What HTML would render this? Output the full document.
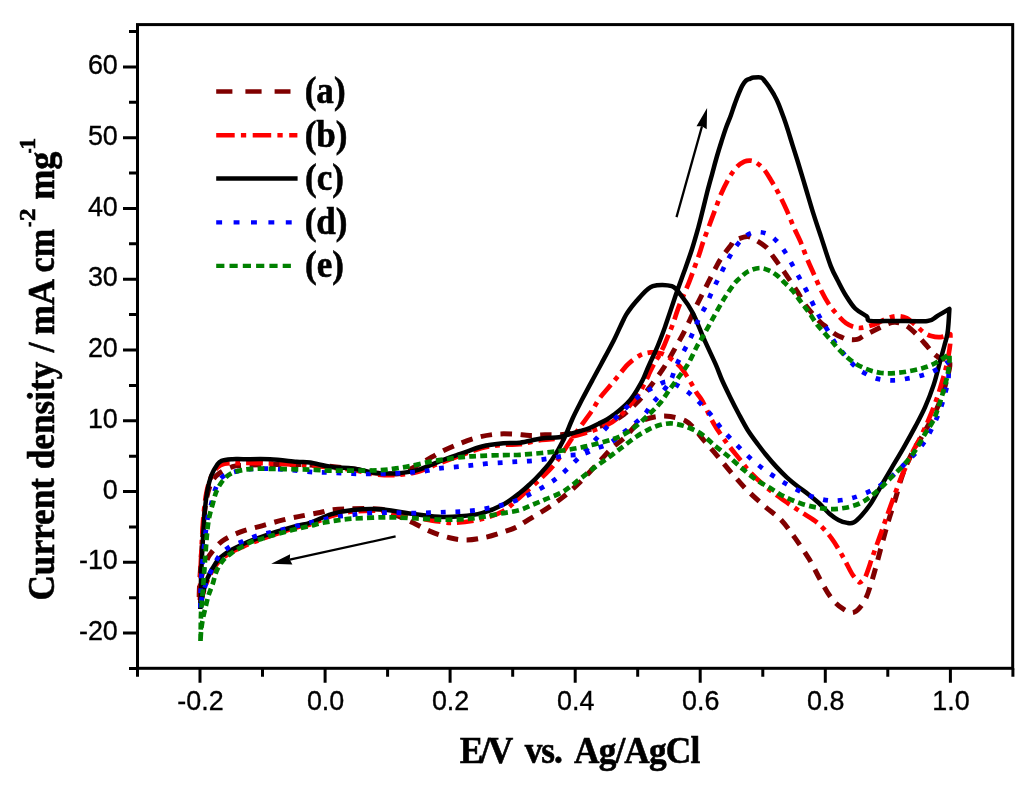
<!DOCTYPE html>
<html><head><meta charset="utf-8"><title>CV</title>
<style>
html,body{margin:0;padding:0;background:#fff;}
body{width:1024px;height:788px;overflow:hidden;font-family:"Liberation Sans",sans-serif;}
svg{display:block;}
</style></head><body>
<svg width="1024" height="788" viewBox="0 0 1024 788">
<defs><filter id="soft" x="-2%" y="-2%" width="104%" height="104%"><feGaussianBlur stdDeviation="0.55"/></filter></defs>
<rect width="1024" height="788" fill="#fff"/>
<g filter="url(#soft)">
<g id="curves">
<path d="M199.2,597.0C199.2,595.7 199.2,593.9 199.4,589.0C199.6,584.1 199.9,578.1 200.6,567.9C201.2,557.7 202.4,539.0 203.3,527.9C204.2,516.8 204.7,508.9 206.0,501.3C207.3,493.8 209.1,487.3 211.3,482.6C213.5,477.9 215.8,476.0 219.3,473.3C222.9,470.6 228.6,467.9 232.6,466.6C236.6,465.3 237.1,465.7 243.3,465.3C249.5,464.9 261.1,464.6 270.0,464.5C278.9,464.4 288.2,464.3 296.5,464.5C304.8,464.7 310.6,464.8 320.0,465.5C329.4,466.2 343.9,467.8 353.0,469.0C362.1,470.2 367.3,472.2 374.5,473.0C381.7,473.8 390.6,474.3 396.0,474.0C401.4,473.7 401.7,473.2 406.7,471.0C411.7,468.8 420.3,463.7 426.0,460.5C431.7,457.3 435.3,454.8 441.0,451.9C446.7,449.0 453.9,445.8 460.4,443.3C466.8,440.8 473.6,438.4 479.7,436.9C485.8,435.4 491.2,434.6 496.9,434.1C502.6,433.6 508.6,433.9 514.1,434.1C519.6,434.3 524.9,435.3 530.0,435.4C535.1,435.5 539.5,434.9 545.0,434.8C550.5,434.7 556.5,435.1 563.0,434.5C569.5,433.9 576.8,432.8 584.0,431.0C591.2,429.2 599.8,426.4 606.0,424.0C612.2,421.6 616.0,419.9 621.0,416.5C626.0,413.1 631.7,407.9 636.0,403.6C640.3,399.3 642.6,396.4 647.0,390.8C651.4,385.2 657.8,376.6 662.3,369.9C666.8,363.2 669.9,357.5 673.7,350.8C677.5,344.1 681.5,337.1 685.1,329.9C688.8,322.7 692.1,314.7 695.6,307.5C699.1,300.3 702.7,293.4 706.2,286.5C709.7,279.6 713.9,271.1 716.6,266.1C719.3,261.1 719.9,260.1 722.3,256.6C724.7,253.1 728.8,247.9 730.9,245.2C733.0,242.5 732.0,241.8 734.7,240.4C737.4,239.0 743.8,236.8 747.1,236.6C750.4,236.4 751.5,237.8 754.7,239.5C757.9,241.2 763.2,244.6 766.1,247.1C769.0,249.6 769.6,251.7 771.8,254.7C774.0,257.7 777.3,262.3 779.4,265.2C781.5,268.1 781.8,268.3 784.2,271.8C786.6,275.3 791.5,282.8 793.7,286.1C795.9,289.4 795.4,288.5 797.5,291.8C799.6,295.1 802.5,301.2 806.1,306.1C809.8,311.0 816.2,318.0 819.4,321.3C822.6,324.6 822.6,323.9 825.1,326.0C827.6,328.1 831.8,331.8 834.6,333.7C837.5,335.6 840.0,336.6 842.2,337.5C844.4,338.4 845.1,339.1 847.6,339.4C850.1,339.7 854.2,340.1 857.1,339.4C860.0,338.7 861.5,336.8 864.7,335.2C867.9,333.6 872.3,331.4 876.1,329.5C879.9,327.6 884.3,325.0 887.5,323.8C890.7,322.6 892.2,322.1 895.1,322.2C898.0,322.3 901.8,323.3 904.7,324.7C907.6,326.1 909.8,328.2 912.3,330.4C914.8,332.6 917.4,335.3 919.9,338.0C922.4,340.7 925.1,343.9 927.5,346.6C929.9,349.3 931.8,352.0 934.1,354.0C936.4,356.0 939.0,358.1 941.5,358.8C944.0,359.5 949.3,358.0 949.3,358.0C949.3,358.0 950.1,362.8 949.8,366.0C949.5,369.2 948.5,372.8 947.5,377.0C946.5,381.2 945.1,386.2 943.5,391.0C941.9,395.8 940.2,400.8 938.0,406.0C935.8,411.2 932.8,416.7 930.0,422.0C927.2,427.3 923.9,433.0 921.0,438.0C918.1,443.0 915.6,445.9 912.6,451.9C909.6,457.9 905.8,465.8 902.8,474.2C899.8,482.6 897.0,493.7 894.4,502.1C891.8,510.5 889.7,516.5 887.4,524.4C885.1,532.3 882.9,540.7 880.5,549.5C878.1,558.3 875.5,569.0 872.9,577.4C870.3,585.8 868.2,594.0 865.1,599.8C862.0,605.6 857.7,610.8 854.0,612.3C850.3,613.8 846.5,611.0 842.8,608.7C839.1,606.4 835.3,603.1 831.6,598.4C827.9,593.6 824.2,586.7 820.5,580.2C816.8,573.7 813.5,566.3 809.3,559.3C805.1,552.3 799.9,544.9 795.3,538.4C790.6,531.9 786.5,525.6 781.4,520.2C776.3,514.9 770.3,511.2 764.7,506.3C759.1,501.4 753.2,496.2 747.9,490.9C742.5,485.5 737.6,480.0 732.6,474.2C727.6,468.4 722.5,462.0 717.7,456.3C712.9,450.6 707.7,444.9 703.7,440.2C699.8,435.5 697.0,431.5 694.0,428.3C691.0,425.1 689.3,422.8 685.4,420.8C681.5,418.8 675.0,417.2 670.4,416.5C665.8,415.8 661.8,416.0 657.5,416.5C653.2,417.0 648.2,418.3 644.6,419.7C641.0,421.1 639.2,422.2 636.0,425.1C632.8,428.0 629.2,433.1 625.3,436.9C621.4,440.7 617.1,443.2 612.4,447.7C607.7,452.2 602.7,458.1 597.3,463.8C591.9,469.5 585.9,476.4 580.2,482.0C574.5,487.6 568.4,492.8 563.0,497.1C557.6,501.4 553.6,504.1 547.9,507.8C542.2,511.6 533.9,516.4 528.6,519.6C523.3,522.8 520.5,525.0 516.3,527.1C512.1,529.2 508.4,530.3 503.4,532.0C498.4,533.7 492.3,535.9 486.2,537.2C480.1,538.5 472.9,539.9 466.8,540.0C460.7,540.1 455.7,539.2 449.6,537.8C443.5,536.4 436.4,533.9 430.3,531.4C424.2,528.9 418.8,525.5 413.1,522.8C407.4,520.1 401.4,517.5 396.0,515.3C390.6,513.0 388.8,510.4 380.9,509.3C373.0,508.2 356.9,508.7 348.7,508.8C340.5,508.9 336.3,509.3 331.5,509.9C326.7,510.5 324.9,511.5 320.0,512.5C315.1,513.5 308.0,514.7 301.9,515.9C295.8,517.1 289.9,518.2 283.2,519.9C276.5,521.5 269.0,523.8 261.9,525.8C254.8,527.8 247.2,529.3 240.6,531.9C233.9,534.5 227.1,537.4 222.0,541.2C216.9,545.0 212.7,551.0 210.0,554.5C207.3,558.0 207.3,559.1 206.0,562.5C204.7,565.9 203.1,570.6 202.0,575.0C200.9,579.4 199.8,586.7 199.4,589.0" fill="none" stroke="#800000" stroke-width="5.0" stroke-linejoin="round" stroke-dasharray="11.5 8.5"/>
<path d="M199.9,600.0C200.0,595.8 200.1,584.2 200.4,575.0C200.7,565.8 201.2,555.0 201.7,545.0C202.2,535.0 202.8,523.7 203.6,515.0C204.4,506.3 205.2,499.2 206.4,493.0C207.6,486.8 209.1,481.7 210.9,477.5C212.7,473.3 214.7,470.1 217.0,467.8C219.3,465.5 220.2,464.6 224.6,463.8C229.0,463.0 235.7,463.1 243.3,463.0C250.9,462.9 261.1,463.2 270.0,463.5C278.9,463.8 288.2,464.0 296.5,464.5C304.8,465.0 310.6,465.6 320.0,466.5C329.4,467.4 343.9,468.7 353.0,470.0C362.1,471.3 367.3,473.4 374.5,474.2C381.7,475.0 388.9,475.4 396.0,475.0C403.1,474.6 410.2,473.9 417.4,472.0C424.5,470.1 431.7,466.2 438.9,463.5C446.1,460.8 453.2,458.1 460.4,455.5C467.6,452.9 474.7,449.8 481.9,448.0C489.1,446.2 497.0,445.4 503.4,444.8C509.8,444.2 513.6,445.0 520.0,444.2C526.4,443.4 534.3,441.0 541.5,440.0C548.7,439.0 555.8,439.3 563.0,438.2C570.2,437.1 577.0,435.5 584.5,433.2C592.0,430.9 601.7,427.8 608.0,424.5C614.3,421.2 617.7,418.2 622.5,413.5C627.3,408.8 633.2,401.8 637.0,396.5C640.8,391.2 643.4,385.5 645.5,381.5C647.6,377.5 648.3,375.6 649.7,372.6C651.1,369.6 652.5,366.6 654.1,363.7C655.7,360.8 657.9,357.8 659.5,354.9C661.1,351.9 662.4,349.3 663.9,346.0C665.4,342.7 666.9,338.8 668.3,335.3C669.7,331.8 670.6,330.0 672.5,325.0C674.4,320.0 676.6,312.3 679.4,305.2C682.1,298.1 686.5,288.6 689.0,282.3C691.5,276.0 692.9,271.9 694.6,267.1C696.3,262.4 698.0,258.1 699.4,253.8C700.8,249.5 701.7,246.0 703.3,241.4C704.9,236.8 707.1,231.3 709.0,226.2C710.9,221.1 712.6,216.4 714.7,210.9C716.8,205.4 719.0,198.7 721.4,193.2C723.8,187.7 726.5,182.3 729.0,178.0C731.5,173.7 734.1,169.9 736.6,167.2C739.1,164.5 741.9,162.8 744.2,161.7C746.5,160.6 748.2,160.5 750.2,160.6C752.2,160.7 753.8,161.1 756.0,162.5C758.2,163.9 760.9,165.9 763.4,168.8C765.9,171.7 768.3,175.8 770.8,179.9C773.3,184.0 775.8,188.0 778.5,193.2C781.2,198.4 784.5,205.2 787.0,210.9C789.5,216.6 791.5,222.0 793.7,227.1C795.9,232.2 798.2,236.2 800.4,241.4C802.6,246.6 804.8,253.1 807.0,258.5C809.2,263.9 811.3,268.3 813.7,273.7C816.1,279.1 818.8,285.7 821.3,290.8C823.8,295.9 826.4,300.4 828.9,304.2C831.4,308.0 833.6,310.5 836.5,313.7C839.4,316.9 842.8,320.9 846.0,323.2C849.2,325.5 852.7,326.7 855.5,327.4C858.3,328.1 859.4,328.2 862.8,327.6C866.2,327.0 872.3,325.2 876.1,323.8C879.9,322.4 882.1,320.3 885.6,319.0C889.1,317.7 893.5,316.3 897.0,316.2C900.5,316.1 903.4,316.5 906.6,318.1C909.8,319.7 913.2,323.3 916.1,325.7C919.0,328.1 921.2,330.6 923.7,332.3C926.2,334.0 928.4,335.3 931.3,336.1C934.1,336.9 937.6,337.4 940.8,337.1C944.0,336.8 950.3,334.2 950.3,334.2C950.3,334.2 950.6,339.1 950.3,342.8C950.0,346.5 949.2,351.7 948.4,356.1C947.6,360.5 946.7,365.0 945.6,369.4C944.5,373.8 943.2,377.9 941.8,382.7C940.4,387.5 938.8,392.9 937.0,398.0C935.2,403.1 933.2,408.4 931.3,413.2C929.4,417.9 927.7,421.9 925.6,426.5C923.5,431.1 920.7,436.8 918.5,441.0C916.3,445.2 915.5,445.9 912.6,451.9C909.8,457.9 904.7,469.1 901.4,477.0C898.1,484.9 895.6,492.3 893.0,499.3C890.4,506.3 888.3,512.3 886.0,518.8C883.7,525.3 881.4,531.9 879.1,538.4C876.8,544.9 874.4,551.4 872.1,557.9C869.8,564.4 867.2,573.3 865.1,577.4C863.0,581.5 859.5,582.5 859.5,582.5C859.5,582.5 855.4,579.0 852.6,574.7C849.8,570.4 846.3,562.5 842.8,556.5C839.3,550.5 835.8,544.0 831.6,538.4C827.4,532.8 822.8,527.4 817.7,523.0C812.6,518.6 806.5,515.6 800.9,511.9C795.3,508.2 789.8,504.7 784.2,500.7C778.6,496.7 773.0,492.8 767.4,488.1C761.8,483.5 755.3,477.6 750.7,472.8C746.1,468.0 744.1,464.6 740.0,459.5C735.9,454.4 730.7,448.4 726.3,442.3C721.9,436.2 717.3,429.8 713.4,423.0C709.5,416.2 705.4,406.6 702.6,401.5C699.8,396.4 698.9,396.4 696.6,392.7C694.3,389.0 691.5,383.5 688.9,379.4C686.3,375.3 684.1,371.3 681.3,368.0C678.4,364.7 675.0,361.8 671.8,359.4C668.6,357.0 665.8,354.9 662.3,353.7C658.8,352.5 654.7,352.1 650.9,352.4C647.1,352.7 643.3,353.6 639.5,355.6C635.7,357.6 631.5,360.9 628.0,364.2C624.5,367.5 621.7,371.8 618.5,375.6C615.3,379.4 612.2,383.2 609.0,387.0C605.8,390.8 602.5,394.2 599.5,398.4C596.5,402.6 595.2,405.9 590.9,412.2C586.6,418.4 579.4,427.7 573.7,435.9C568.0,444.1 561.9,454.6 556.5,461.6C551.1,468.6 547.6,471.9 541.5,477.8C535.4,483.7 526.4,491.6 520.0,497.1C513.6,502.6 509.8,507.4 503.4,511.0C497.0,514.6 489.8,517.0 481.9,519.0C474.0,521.0 463.3,522.4 456.1,522.8C448.9,523.2 447.1,522.6 438.9,521.5C430.7,520.4 416.4,517.8 406.7,516.0C397.0,514.2 389.8,511.8 380.9,511.0C371.9,510.2 361.2,510.7 353.0,511.5C344.8,512.3 338.7,513.8 331.5,516.0C324.3,518.2 315.8,522.6 310.0,524.5C304.2,526.4 303.2,525.6 296.5,527.5C289.8,529.4 276.6,533.8 270.0,536.0C263.4,538.2 261.1,539.2 256.7,541.0C252.2,542.8 247.8,544.5 243.3,546.5C238.9,548.5 234.0,550.6 230.0,553.0C226.0,555.4 222.2,558.2 219.3,561.0C216.4,563.8 214.7,566.7 212.7,570.0C210.7,573.3 208.9,577.2 207.3,581.0C205.7,584.8 204.5,589.3 203.3,593.0C202.1,596.7 200.7,601.3 200.2,603.0" fill="none" stroke="#ff0000" stroke-width="4.7" stroke-linejoin="round" stroke-dasharray="16.5 5.8 4.8 6"/>
<path d="M200.3,609.0C200.5,603.0 200.8,584.6 201.2,573.3C201.6,562.0 202.2,551.5 202.8,541.3C203.4,531.1 203.9,520.4 204.7,512.0C205.4,503.6 206.2,497.1 207.3,491.0C208.4,484.9 209.7,479.8 211.3,475.5C212.9,471.2 215.0,467.9 216.7,465.5C218.4,463.1 218.8,461.9 221.5,460.8C224.2,459.8 229.1,459.5 232.7,459.2C236.3,458.9 237.1,459.2 243.3,459.2C249.5,459.2 261.1,458.8 270.0,459.2C278.9,459.6 289.8,461.2 296.5,461.8C303.2,462.4 304.2,461.8 310.0,462.6C315.8,463.5 324.3,465.9 331.5,466.9C338.7,467.9 345.8,467.4 353.0,468.4C360.2,469.4 367.3,471.9 374.5,472.7C381.7,473.5 388.9,473.8 396.0,473.4C403.1,473.0 410.2,472.2 417.4,470.2C424.5,468.2 431.7,464.3 438.9,461.6C446.1,458.9 453.2,456.5 460.4,454.0C467.6,451.5 474.7,448.3 481.9,446.5C489.1,444.7 497.0,443.9 503.4,443.3C509.8,442.7 513.6,443.5 520.0,442.7C526.4,441.9 535.0,439.3 541.5,438.4C548.0,437.5 554.4,438.0 559.1,437.3C563.8,436.6 566.2,435.1 569.8,434.0C573.3,432.9 577.1,432.0 580.4,431.0C583.7,430.0 586.5,429.2 589.6,428.0C592.7,426.8 595.7,425.2 598.7,423.7C601.7,422.2 605.0,420.6 607.8,418.9C610.6,417.2 612.8,415.4 615.4,413.5C618.0,411.6 620.5,409.6 623.1,407.2C625.7,404.8 628.4,402.2 630.7,399.4C633.0,396.6 634.8,393.7 636.8,390.4C638.8,387.1 641.0,383.4 642.8,379.8C644.6,376.2 646.1,372.0 647.4,369.0C648.7,366.0 649.5,364.2 650.5,362.0C651.5,359.8 652.1,358.7 653.3,356.0C654.5,353.3 655.9,350.3 657.7,346.0C659.5,341.7 662.4,333.9 663.9,330.0C665.4,326.1 664.6,328.1 666.6,322.3C668.6,316.6 672.7,304.0 675.6,295.5C678.5,287.0 681.4,279.3 684.2,271.5C687.0,263.7 689.9,255.8 692.2,248.5C694.5,241.2 696.4,234.4 698.2,228.0C700.0,221.6 701.3,215.9 702.8,210.0C704.3,204.1 705.6,198.4 707.1,192.5C708.6,186.6 710.3,180.6 711.9,174.8C713.5,169.0 715.0,163.0 716.6,157.5C718.2,152.0 719.8,146.8 721.4,141.8C723.0,136.8 724.5,131.9 726.1,127.5C727.7,123.1 729.5,119.1 730.9,115.2C732.3,111.3 733.4,107.6 734.7,104.1C736.0,100.6 737.2,97.3 738.5,94.2C739.8,91.1 741.0,88.0 742.3,85.7C743.6,83.4 744.8,81.7 746.1,80.5C747.4,79.3 748.6,79.3 749.9,78.8C751.2,78.3 751.8,77.8 753.7,77.6C755.6,77.4 759.4,76.9 761.3,77.6C763.2,78.2 763.8,80.0 765.1,81.5C766.4,83.0 767.5,84.5 768.9,86.6C770.3,88.7 772.1,91.3 773.7,94.2C775.3,97.1 776.8,99.7 778.5,103.8C780.2,107.9 782.6,114.6 784.2,119.0C785.8,123.4 786.6,126.0 788.0,130.4C789.4,134.8 791.1,140.5 792.7,145.6C794.3,150.7 795.4,154.1 797.5,160.8C799.6,167.5 802.4,177.0 805.1,186.0C807.8,195.0 811.0,206.1 813.7,214.7C816.4,223.3 818.4,229.0 821.3,237.6C824.1,246.2 828.0,258.9 830.8,266.1C833.6,273.3 835.5,276.1 838.0,281.0C840.5,285.9 842.8,290.6 845.7,295.2C848.6,299.8 851.7,305.0 855.2,308.5C858.7,312.0 864.1,314.1 866.6,316.2C869.1,318.3 865.6,320.1 870.4,320.9C875.1,321.7 885.6,320.9 895.1,320.9C904.6,320.9 920.5,321.7 927.5,320.9C934.5,320.1 933.4,318.2 937.0,316.2C940.6,314.2 949.4,308.9 949.4,308.9C949.4,308.9 948.9,317.8 948.6,322.0C948.3,326.2 948.1,330.0 947.4,334.0C946.7,338.0 945.6,341.1 944.3,346.0C943.0,350.9 941.3,357.1 939.5,363.7C937.7,370.3 935.9,378.2 933.5,385.4C931.1,392.6 928.1,400.3 925.1,407.1C922.1,413.9 919.0,419.6 915.4,426.4C911.8,433.2 907.4,441.1 903.4,448.1C899.4,455.1 895.3,461.8 891.3,468.6C887.3,475.4 882.8,483.0 879.3,489.0C875.8,495.0 873.0,500.4 870.0,504.8C867.0,509.2 864.2,512.5 861.5,515.5C858.8,518.5 855.9,521.4 853.5,522.6C851.1,523.8 849.8,523.4 847.3,522.9C844.8,522.4 841.4,521.4 838.4,519.9C835.4,518.4 832.8,516.5 829.5,513.7C826.2,510.9 822.3,506.2 818.8,503.0C815.2,499.8 811.8,497.0 808.2,494.2C804.7,491.4 801.1,489.0 797.5,486.2C793.9,483.4 790.3,480.6 786.8,477.3C783.2,474.0 779.8,470.5 776.2,466.6C772.7,462.8 768.8,458.2 765.5,454.2C762.2,450.2 759.6,446.6 756.6,442.6C753.6,438.6 750.8,434.9 747.8,430.2C744.8,425.5 741.7,419.5 738.9,414.2C736.1,408.9 733.6,404.1 730.8,398.4C728.0,392.7 724.5,385.7 722.0,380.0C719.5,374.3 718.6,371.0 715.6,364.2C712.6,357.4 708.0,348.0 704.2,339.4C700.4,330.8 696.5,320.1 692.7,312.8C688.9,305.5 684.8,300.1 681.3,295.7C677.8,291.3 676.5,287.8 671.8,286.2C667.0,284.6 658.2,284.3 652.8,286.2C647.4,288.1 643.9,292.9 639.5,297.6C635.1,302.4 630.5,307.6 626.2,314.7C622.0,321.8 618.2,331.8 614.0,340.0C609.8,348.2 604.8,357.3 601.2,364.0C597.6,370.7 595.7,374.1 592.5,380.0C589.3,385.9 585.5,392.9 582.2,399.3C578.9,405.8 575.6,411.9 572.5,418.7C569.4,425.5 566.7,433.4 563.3,440.2C559.9,447.0 555.8,454.1 552.2,459.5C548.6,464.9 545.2,468.3 541.5,472.4C537.8,476.5 533.6,480.7 530.0,484.1C526.4,487.5 524.4,489.4 520.0,492.8C515.6,496.2 509.8,501.1 503.4,504.5C497.0,507.9 489.1,511.1 481.9,513.1C474.7,515.1 467.6,515.7 460.4,516.3C453.2,516.9 447.8,517.3 438.9,516.8C429.9,516.3 416.4,514.4 406.7,513.1C397.0,511.9 389.8,509.8 380.9,509.3C371.9,508.8 361.2,509.1 353.0,509.9C344.8,510.7 338.7,512.1 331.5,514.2C324.3,516.4 315.8,520.8 310.0,522.8C304.2,524.8 303.2,524.1 296.5,526.0C289.8,527.9 276.6,531.8 270.0,533.9C263.4,536.0 261.1,537.0 256.7,538.7C252.2,540.4 247.8,542.0 243.3,544.0C238.9,546.0 234.0,548.2 230.0,550.7C226.0,553.2 222.2,555.8 219.3,558.7C216.4,561.6 214.7,564.7 212.7,568.0C210.7,571.3 208.9,574.7 207.3,578.7C205.7,582.7 204.4,587.1 203.3,592.0C202.2,596.9 201.1,605.3 200.7,608.0" fill="none" stroke="#000000" stroke-width="4.5" stroke-linejoin="round"/>
<path d="M200.4,607.8C200.4,605.1 200.3,598.4 200.6,591.8C200.9,585.1 201.3,576.3 202.0,567.9C202.7,559.5 203.8,549.2 204.7,541.2C205.6,533.2 206.2,526.1 207.3,519.9C208.4,513.7 210.0,509.0 211.3,503.9C212.6,498.8 213.5,493.7 215.3,489.3C217.1,484.9 218.4,480.3 222.0,477.3C225.6,474.3 230.8,472.8 236.6,471.4C242.4,470.0 248.8,469.1 256.6,468.8C264.4,468.5 274.3,468.8 283.2,469.3C292.1,469.8 301.9,471.3 310.0,471.9C318.1,472.5 322.6,472.3 331.5,472.7C340.4,473.1 352.9,473.9 363.7,474.0C374.4,474.1 386.0,473.9 396.0,473.4C406.0,472.9 416.8,472.0 423.9,471.2C431.0,470.4 433.5,469.1 438.9,468.4C444.2,467.7 450.6,467.4 456.0,466.9C461.4,466.4 466.1,465.9 471.1,465.4C476.1,464.9 480.8,464.2 486.2,463.7C491.6,463.2 498.0,463.0 503.4,462.6C508.8,462.2 513.3,461.9 518.4,461.6C523.5,461.3 528.7,461.1 534.0,460.6C539.3,460.1 544.6,459.2 550.0,458.4C555.4,457.6 560.8,456.3 566.2,455.6C571.6,454.9 577.5,455.2 582.3,454.1C587.1,453.0 590.7,450.5 595.2,448.7C599.7,446.9 604.9,445.8 609.2,443.4C613.5,441.0 617.1,437.6 621.0,434.5C624.9,431.4 628.9,428.5 632.8,425.1C636.7,421.8 641.4,418.0 644.6,414.4C647.8,410.8 649.4,407.0 652.1,403.6C654.8,400.2 657.7,397.8 660.7,394.0C663.8,390.2 667.9,385.5 670.4,381.0C672.9,376.5 673.8,371.2 675.6,367.0C677.4,362.8 679.2,359.6 681.3,355.6C683.4,351.6 685.9,347.3 688.0,343.2C690.1,339.1 691.8,335.2 693.7,330.9C695.6,326.6 697.3,321.8 699.4,317.5C701.5,313.2 703.9,309.8 706.1,305.2C708.3,300.6 710.5,294.8 712.7,290.0C714.9,285.2 717.2,281.1 719.4,276.6C721.6,272.2 723.8,267.5 726.0,263.3C728.2,259.1 730.3,255.1 732.8,251.3C735.3,247.5 737.8,243.5 741.0,240.4C744.2,237.3 747.6,234.0 751.8,232.8C756.0,231.6 762.0,232.0 766.1,233.4C770.2,234.8 773.5,238.0 776.6,241.0C779.7,244.0 782.1,247.5 784.6,251.3C787.1,255.1 789.4,259.5 791.8,263.8C794.2,268.1 796.6,272.8 799.0,277.1C801.4,281.5 803.4,284.7 806.1,289.9C808.8,295.1 812.6,303.3 815.2,308.5C817.8,313.7 819.5,316.8 821.9,320.9C824.3,325.0 827.0,329.2 829.5,333.3C832.0,337.4 833.0,340.2 837.1,345.6C841.2,351.0 849.6,361.0 854.2,365.6C858.8,370.2 860.7,371.0 864.7,373.2C868.7,375.4 873.1,377.7 878.0,378.9C882.9,380.1 888.8,380.4 894.2,380.3C899.6,380.2 905.3,378.9 910.4,378.0C915.5,377.1 920.2,376.0 924.6,374.6C929.0,373.2 933.0,371.5 937.0,369.4C941.0,367.3 948.4,361.8 948.4,361.8C948.4,361.8 949.0,373.4 948.4,379.0C947.8,384.6 946.0,389.9 944.6,395.1C943.2,400.3 941.8,405.3 939.9,410.3C938.0,415.3 936.0,420.2 933.5,425.3C931.0,430.4 927.9,436.3 925.1,440.7C922.3,445.1 919.7,448.4 916.7,451.9C913.7,455.4 910.2,458.4 907.0,461.6C903.8,464.9 900.7,468.1 897.2,471.4C893.7,474.7 889.7,478.3 886.0,481.2C882.3,484.1 879.1,486.4 874.9,488.7C870.7,491.0 865.5,493.3 860.9,495.1C856.2,496.9 851.9,498.4 847.0,499.3C842.1,500.2 836.7,500.9 831.6,500.7C826.5,500.5 820.9,499.2 816.3,497.9C811.6,496.6 808.1,494.9 803.7,492.9C799.3,490.9 794.2,488.3 789.8,485.9C785.4,483.5 781.4,481.0 777.2,478.4C773.0,475.8 768.7,472.9 764.7,470.0C760.8,467.1 757.0,464.1 753.5,461.1C750.0,458.1 747.0,455.1 743.7,451.9C740.4,448.7 737.2,445.5 733.8,441.9C730.3,438.3 726.6,434.7 723.0,430.5C719.4,426.3 715.5,420.4 712.3,416.5C709.1,412.6 706.6,409.9 703.7,406.9C700.8,403.9 698.2,401.2 695.0,398.3C691.8,395.4 688.9,392.5 684.4,389.7C679.9,386.9 673.1,382.2 668.3,381.7C663.5,381.1 659.5,384.5 655.4,386.4C651.3,388.3 647.2,390.5 643.5,392.9C639.8,395.3 636.7,397.8 633.2,400.8C629.7,403.9 626.2,407.8 622.7,411.2C619.2,414.6 615.7,417.9 612.4,421.3C609.1,424.7 605.9,428.1 602.7,431.6C599.5,435.1 596.4,438.6 593.0,442.3C589.6,446.1 586.0,450.2 582.3,454.1C578.5,458.0 574.4,462.1 570.5,465.9C566.6,469.7 562.5,473.6 558.7,476.7C555.0,479.8 552.0,481.7 548.0,484.2C544.0,486.7 539.0,489.4 534.6,491.7C530.2,494.0 526.1,496.1 521.6,498.1C517.1,500.1 512.2,502.1 507.7,503.5C503.2,504.9 499.6,505.6 494.8,506.7C490.0,507.8 484.1,509.1 478.7,509.9C473.3,510.7 467.7,511.0 462.5,511.4C457.3,511.8 452.9,511.8 447.5,512.0C442.1,512.2 436.0,512.5 430.3,512.7C424.6,512.9 418.8,513.1 413.1,513.1C407.4,513.1 401.4,512.8 396.0,512.7C390.6,512.6 386.3,512.6 380.9,512.7C375.5,512.9 369.1,513.2 363.7,513.6C358.3,514.0 353.7,514.7 348.7,515.3C343.7,515.9 338.6,516.5 333.6,517.4C328.6,518.3 323.9,519.4 318.6,520.6C313.3,521.8 309.6,522.8 301.9,524.7C294.2,526.6 279.9,530.1 272.6,531.9C265.3,533.7 262.8,533.8 257.9,535.4C253.0,537.0 248.0,539.3 243.3,541.2C238.7,543.1 234.0,544.2 230.0,546.6C226.0,549.0 222.4,551.9 219.3,555.9C216.2,559.9 213.5,565.9 211.3,570.5C209.1,575.1 207.6,579.4 206.0,583.8C204.4,588.2 202.9,593.0 202.0,597.0C201.1,601.0 200.8,606.0 200.6,607.8" fill="none" stroke="#0000ff" stroke-width="4.7" stroke-linejoin="round" stroke-dasharray="4.9 9.8"/>
<path d="M200.5,641.0C200.6,638.3 200.7,630.0 200.8,625.0C200.9,620.0 200.8,617.4 201.2,610.7C201.6,604.0 202.7,592.6 203.3,585.0C203.9,577.4 204.2,571.7 204.7,565.3C205.1,558.9 205.6,552.5 206.0,546.7C206.4,540.9 206.8,535.6 207.3,530.7C207.8,525.8 208.3,521.8 209.2,517.3C210.1,512.8 211.4,508.4 212.7,504.0C213.9,499.6 214.9,494.7 216.7,490.7C218.5,486.7 220.9,482.9 223.3,480.0C225.7,477.1 228.0,475.0 231.3,473.3C234.6,471.6 239.1,470.6 243.3,469.9C247.5,469.1 252.2,469.0 256.7,468.8C261.1,468.6 263.4,468.7 270.0,468.8C276.6,468.9 289.0,469.1 296.5,469.3C304.0,469.5 309.4,469.6 315.2,469.8C321.0,470.0 325.2,470.5 331.5,470.6C337.8,470.7 344.8,470.7 353.0,470.6C361.2,470.5 373.7,470.6 380.9,470.2C388.1,469.8 391.0,469.1 396.0,468.4C401.0,467.7 405.3,467.0 411.0,465.9C416.7,464.8 424.2,462.8 430.3,461.6C436.4,460.5 441.8,459.8 447.5,459.0C453.2,458.2 459.0,457.3 464.7,456.8C470.4,456.3 475.4,456.1 481.9,455.8C488.3,455.5 497.0,455.3 503.4,455.1C509.8,454.9 513.6,455.2 520.0,454.8C526.4,454.4 534.3,453.7 541.5,453.0C548.7,452.3 555.8,451.6 563.0,450.5C570.2,449.4 577.4,448.2 584.5,446.6C591.6,445.1 599.8,443.0 605.9,441.2C612.0,439.4 616.0,438.4 621.0,435.9C626.0,433.4 631.4,429.8 636.0,426.2C640.6,422.6 644.9,418.2 648.9,414.4C652.9,410.6 656.2,407.8 659.7,403.6C663.2,399.4 666.4,394.0 670.0,389.0C673.6,384.0 678.1,378.1 681.3,373.7C684.5,369.2 686.5,366.8 689.0,362.3C691.5,357.9 694.4,351.1 696.6,347.0C698.8,342.9 699.8,341.9 702.3,337.5C704.8,333.1 708.6,326.1 711.8,320.4C715.0,314.7 718.6,307.9 721.3,303.3C724.0,298.7 725.8,296.1 728.0,292.7C730.2,289.3 732.5,285.9 734.7,283.2C736.9,280.5 739.0,278.7 741.4,276.6C743.8,274.6 745.8,272.3 749.0,270.9C752.2,269.5 756.9,268.0 760.4,268.0C763.9,268.0 766.9,269.5 769.9,270.9C772.9,272.3 776.0,274.6 778.5,276.6C781.0,278.7 782.7,280.8 785.1,283.2C787.5,285.6 790.5,288.2 792.7,290.8C794.9,293.4 796.6,295.9 798.5,298.5C800.4,301.1 802.3,303.6 804.2,306.1C806.1,308.6 807.8,310.6 809.9,313.7C812.0,316.8 814.6,321.4 817.1,324.7C819.6,328.0 822.2,330.4 824.7,333.3C827.2,336.2 830.1,339.3 832.3,341.8C834.5,344.3 835.9,346.1 838.1,348.5C840.3,350.9 843.0,353.7 845.7,356.1C848.4,358.5 851.4,360.9 854.2,362.8C857.1,364.7 859.6,366.1 862.8,367.5C866.0,368.9 869.8,370.4 873.3,371.3C876.8,372.2 879.8,372.9 883.7,373.2C887.7,373.5 892.9,373.2 897.0,372.9C901.1,372.6 904.7,372.0 908.5,371.3C912.3,370.6 916.3,369.8 919.9,368.9C923.5,367.9 926.8,367.1 930.3,365.6C933.8,364.1 937.6,361.8 940.8,359.9C944.0,358.0 949.4,354.2 949.4,354.2C949.4,354.2 949.7,360.2 949.4,363.7C949.1,367.2 948.3,371.3 947.5,375.1C946.7,378.9 945.7,382.5 944.6,386.6C943.5,390.7 942.1,395.8 940.8,399.9C939.5,404.0 938.4,407.5 937.0,411.3C935.6,415.1 934.2,419.0 932.2,422.7C930.2,426.4 927.9,429.1 925.1,433.7C922.3,438.3 918.8,445.4 915.3,450.5C911.8,455.6 907.9,460.2 904.2,464.4C900.5,468.6 896.7,471.9 893.0,475.6C889.3,479.3 885.6,483.2 881.9,486.7C878.2,490.2 874.4,493.7 870.7,496.5C867.0,499.3 863.7,501.6 859.5,503.5C855.3,505.4 850.2,506.8 845.6,507.7C841.0,508.6 836.2,509.1 831.6,509.1C827.0,509.1 822.8,508.6 817.7,507.7C812.6,506.8 806.5,505.4 800.9,503.5C795.3,501.6 789.3,499.1 784.2,496.5C779.1,493.9 774.9,490.9 770.2,488.1C765.6,485.3 760.9,483.1 756.3,479.8C751.6,476.6 746.5,472.1 742.3,468.6C738.1,465.1 734.2,461.4 731.2,458.8C728.2,456.2 727.1,455.4 724.1,453.0C721.1,450.6 717.0,447.5 713.4,444.5C709.8,441.5 706.2,437.4 702.6,434.8C699.0,432.2 695.5,430.6 691.9,429.0C688.3,427.4 684.7,426.0 681.1,425.1C677.5,424.2 674.0,423.4 670.4,423.4C666.8,423.4 663.3,424.1 659.7,425.1C656.1,426.1 652.9,427.4 648.9,429.4C644.9,431.4 640.3,434.0 636.0,436.9C631.7,439.8 627.4,443.4 623.1,446.6C618.8,449.8 614.9,452.9 610.2,456.3C605.6,459.7 600.2,463.2 595.2,467.0C590.2,470.8 585.6,474.7 580.2,478.8C574.8,482.9 568.7,488.3 563.0,491.7C557.3,495.1 550.8,497.0 545.8,499.2C540.8,501.4 537.2,502.8 532.9,504.6C528.6,506.4 524.9,508.6 520.0,510.0C515.1,511.4 509.0,512.1 503.4,513.1C497.8,514.1 491.6,515.4 486.2,516.3C480.8,517.2 476.1,518.0 471.1,518.5C466.1,519.0 461.5,519.4 456.1,519.6C450.7,519.8 445.3,519.8 438.9,519.6C432.4,519.4 424.5,518.9 417.4,518.5C410.2,518.1 402.1,517.6 396.0,517.4C389.9,517.2 386.3,517.3 380.9,517.4C375.5,517.5 369.1,517.9 363.7,518.1C358.3,518.4 353.3,518.5 348.7,518.9C344.1,519.3 340.1,520.0 335.8,520.6C331.5,521.2 327.2,521.9 322.9,522.8C318.6,523.7 314.4,525.0 310.0,526.0C305.6,527.0 301.0,527.9 296.5,529.0C292.0,530.1 287.4,531.3 283.0,532.5C278.6,533.7 273.5,535.0 270.0,536.0C266.5,537.0 264.9,537.8 262.0,538.7C259.1,539.6 256.0,540.0 252.7,541.3C249.4,542.6 245.6,544.7 242.0,546.7C238.4,548.7 234.4,551.1 231.3,553.3C228.2,555.5 225.7,557.1 223.3,560.0C220.9,562.9 218.5,566.7 216.7,570.7C214.9,574.7 214.0,580.0 212.7,584.0C211.4,588.0 209.8,591.2 208.7,594.7C207.6,598.2 206.9,601.4 206.0,605.3C205.1,609.2 203.8,613.9 203.0,618.0C202.2,622.1 201.6,626.2 201.2,630.0C200.8,633.8 200.6,639.2 200.5,641.0" fill="none" stroke="#008000" stroke-width="4.7" stroke-linejoin="round" stroke-dasharray="7 4.2"/>
</g>
<g id="axes">
<rect x="137.5" y="24.6" width="875.2" height="643.7" fill="none" stroke="#000" stroke-width="3.0"/>
<path d="M137.5,668.5 h-8.5 M137.5,633.1 h-14.5 M137.5,597.7 h-8.5 M137.5,562.3 h-14.5 M137.5,526.9 h-8.5 M137.5,491.6 h-14.5 M137.5,456.2 h-8.5 M137.5,420.8 h-14.5 M137.5,385.4 h-8.5 M137.5,350.0 h-14.5 M137.5,314.6 h-8.5 M137.5,279.2 h-14.5 M137.5,243.8 h-8.5 M137.5,208.5 h-14.5 M137.5,173.1 h-8.5 M137.5,137.7 h-14.5 M137.5,102.3 h-8.5 M137.5,66.9 h-14.5 M137.5,31.5 h-8.5 M137.5,668.3 v8.5 M200.0,668.3 v14.5 M262.5,668.3 v8.5 M325.1,668.3 v14.5 M387.6,668.3 v8.5 M450.1,668.3 v14.5 M512.7,668.3 v8.5 M575.2,668.3 v14.5 M637.7,668.3 v8.5 M700.2,668.3 v14.5 M762.8,668.3 v8.5 M825.3,668.3 v14.5 M887.8,668.3 v8.5 M950.4,668.3 v14.5 M1012.9,668.3 v8.5" stroke="#000" stroke-width="3.0" fill="none"/>
</g>
<g id="legend">
<path d="M216.2,91.5 H290.5" stroke="#800000" stroke-width="4.4" fill="none" stroke-dasharray="16.2 13"/>
<path d="M216.2,135.2 H297.4" stroke="#ff0000" stroke-width="4.4" fill="none" stroke-dasharray="18.5 6.2 5.3 6.5"/>
<path d="M216.2,178.5 H297.6" stroke="#000000" stroke-width="4.4" fill="none"/>
<path d="M216.2,222.4 H292.0" stroke="#0000ff" stroke-width="4.4" fill="none" stroke-dasharray="5.9 11.5"/>
<path d="M216.2,265.9 H291.0" stroke="#008000" stroke-width="4.4" fill="none" stroke-dasharray="8.2 5.1"/>
</g>
<g id="arrows">
<path d="M676.5,217.1 L702.0,126.3" stroke="#000" stroke-width="2.3" fill="none"/><path d="M707.1,108.0 L706.7,129.2 L702.0,126.3 L696.5,126.3 Z" fill="#000"/>
<path d="M395.6,536.4 L289.8,559.7" stroke="#000" stroke-width="2.3" fill="none"/><path d="M271.2,563.8 L290.1,554.2 L289.8,559.7 L292.4,564.6 Z" fill="#000"/>
</g>
<g id="labels">
<g font-family="Liberation Sans, sans-serif" font-size="28.0" fill="#000" stroke="#000" stroke-width="0.35">
<text transform="translate(117.8,640.2) scale(0.960,1)" text-anchor="end">-20</text>
<text transform="translate(117.8,569.4) scale(0.960,1)" text-anchor="end">-10</text>
<text transform="translate(117.8,498.7) scale(0.960,1)" text-anchor="end">0</text>
<text transform="translate(117.8,427.9) scale(0.960,1)" text-anchor="end">10</text>
<text transform="translate(117.8,357.1) scale(0.960,1)" text-anchor="end">20</text>
<text transform="translate(117.8,286.3) scale(0.960,1)" text-anchor="end">30</text>
<text transform="translate(117.8,215.6) scale(0.960,1)" text-anchor="end">40</text>
<text transform="translate(117.8,144.8) scale(0.960,1)" text-anchor="end">50</text>
<text transform="translate(117.8,74.0) scale(0.960,1)" text-anchor="end">60</text>
<text transform="translate(200.5,710.1) scale(0.960,1)" text-anchor="middle">-0.2</text>
<text transform="translate(325.6,710.1) scale(0.960,1)" text-anchor="middle">0.0</text>
<text transform="translate(450.6,710.1) scale(0.960,1)" text-anchor="middle">0.2</text>
<text transform="translate(575.7,710.1) scale(0.960,1)" text-anchor="middle">0.4</text>
<text transform="translate(700.8,710.1) scale(0.960,1)" text-anchor="middle">0.6</text>
<text transform="translate(825.8,710.1) scale(0.960,1)" text-anchor="middle">0.8</text>
<text transform="translate(950.9,710.1) scale(0.960,1)" text-anchor="middle">1.0</text>
</g>
<g font-family="Liberation Serif, serif" font-weight="bold" fill="#000" stroke="#000" stroke-width="0.6">
<text transform="translate(459.7,763.4) scale(0.93,1)" font-size="38" letter-spacing="-2.90">E/V</text>
<text transform="translate(524.8,763.4) scale(0.93,1)" font-size="38" letter-spacing="-1.20">vs.</text>
<text transform="translate(574.0,763.4) scale(0.93,1)" font-size="38" letter-spacing="-0.95">Ag/AgCl</text>
<text transform="translate(54.4,600.55) rotate(-90) scale(0.9266,1)" font-size="38">Current density</text>
<text transform="translate(54.4,352.30) rotate(-90) scale(0.9250,1)" font-size="38">/</text>
<text transform="translate(54.4,334.90) rotate(-90) scale(0.9430,1)" font-size="38">mA</text>
<text transform="translate(54.4,272.40) rotate(-90) scale(0.8980,1)" font-size="38">cm</text>
<text transform="translate(54.4,199.85) rotate(-90) scale(0.9520,1)" font-size="38">mg</text>
<text transform="translate(36.2,227.00) rotate(-90) scale(0.6700,1)" font-size="24">-</text>
<text transform="translate(35.3,221.10) rotate(-90) scale(1.0500,1)" font-size="24">2</text>
<text transform="translate(36.2,153.30) rotate(-90) scale(0.6000,1)" font-size="24">-</text>
<text transform="translate(35.3,149.80) rotate(-90) scale(1.0000,1)" font-size="24">1</text>
<text transform="translate(304.7,103.35) scale(0.935,1)" font-size="37.5">(a)</text>
<text transform="translate(304.7,146.85) scale(0.935,1)" font-size="37.5">(b)</text>
<text transform="translate(305.1,189.95) scale(0.935,1)" font-size="37.5">(c)</text>
<text transform="translate(304.7,233.65) scale(0.935,1)" font-size="37.5">(d)</text>
<text transform="translate(305.1,277.20) scale(0.935,1)" font-size="37.5">(e)</text>
</g>
</g>
</g>
</svg>
</body></html>
